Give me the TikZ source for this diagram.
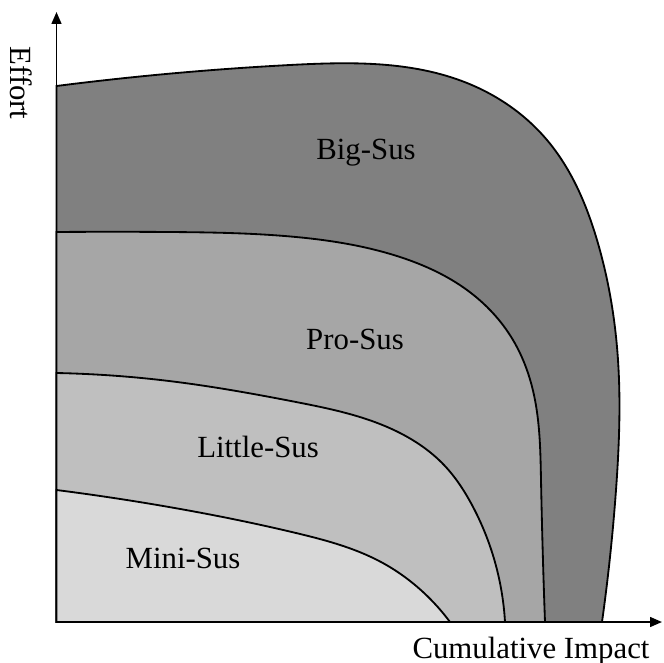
\documentclass[tikz,border=0pt]{standalone}
\usepackage{fontspec}
\setmainfont{Liberation Serif}
\usetikzlibrary{arrows.meta, hobby}

\begin{document}
\begin{tikzpicture}[x=0.025cm, y=-0.025cm, font=\fontsize{21.9}{26}\selectfont]
            \useasboundingbox (0,0) rectangle (664,663);

            \coordinate (O) at (56.5, 622);
            \coordinate (Ytop) at (56.5, 12);
            \coordinate (Xend) at (662, 622);

            % start of each band on the effort axis
            \coordinate (B0) at (56.5, 86);
            \coordinate (P0) at (56.5, 232);
            \coordinate (L0) at (56.5, 373);
            \coordinate (M0) at (56.5, 490);

            % end of each band on the impact axis
            \coordinate (B1) at (602, 622);
            \coordinate (P1) at (545, 622);
            \coordinate (L1) at (505, 622);
            \coordinate (M1) at (450, 622);

            \filldraw[fill=black!50, line width=1.3pt] (O) -- (B0)
                to[curve through={(290,65) .. (467,83) .. (547,140) .. (597,240) .. (618,360) .. (616,490)}] (B1) -- cycle;
            \filldraw[fill=black!35, line width=1.3pt] (O) -- (P0)
                to[curve through={(169,232) .. (296,237) .. (400,257) .. (467,290) .. (513,340) .. (535,400) .. (541,480)}] (P1) -- cycle;
            \filldraw[fill=black!25, line width=1.3pt] (O) -- (L0)
                to[curve through={(169,381) .. (296,402) .. (400,433) .. (444,465) .. (472,505)}] (L1) -- cycle;
            \filldraw[fill=black!15, line width=1.3pt] (O) -- (M0)
                to[curve through={(169,507) .. (296,533) .. (381,562) .. (423,592)}] (M1) -- cycle;

            \draw[line width=1.3pt, -{Triangle[length=8.5pt, width=7pt]}] (O) -- (Ytop);
            \draw[line width=1.3pt, -{Triangle[length=8.5pt, width=7pt]}] (O) -- (Xend);

            \node[anchor=base] (big) at (366, 160) {Big-Sus};
            \node[anchor=base] (pro) at (355, 349) {Pro-Sus};
            \node[anchor=base] (little) at (258, 457) {Little-Sus};
            \node[anchor=base] (mini) at (183, 568) {Mini-Sus};

            \node[anchor=base, rotate=-90] (effort) at (10, 83) {Effort};
            \node[anchor=base] (impact) at (531, 658) {Cumulative Impact};
        \end{tikzpicture}
\end{document}
